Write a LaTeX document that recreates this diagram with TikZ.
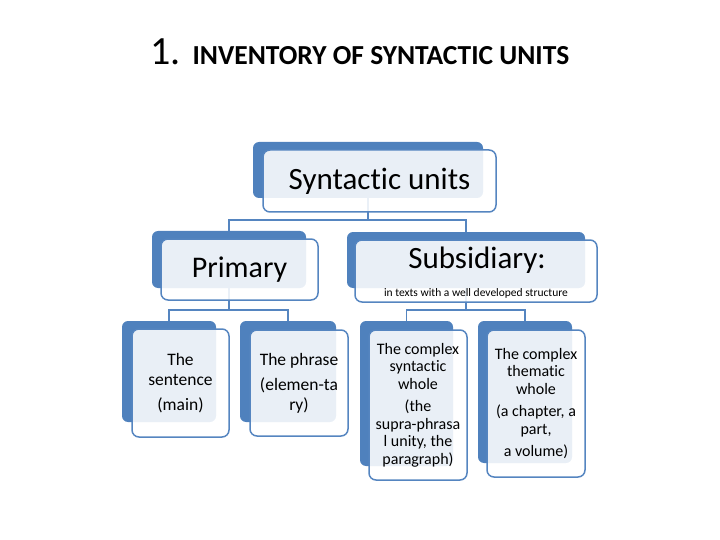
\documentclass[tikz,border=0pt]{standalone}
\usepackage{fontspec}
\setmainfont{Carlito}[Ligatures={NoCommon}]
\usetikzlibrary{positioning}
\definecolor{accblue}{HTML}{4F81BD}
\definecolor{linkblue}{HTML}{5585C0}
\begin{document}
\begin{tikzpicture}[x=1pt,y=-1pt,
  backbox/.style={rectangle,rounded corners=6pt,fill=accblue,draw=none,inner sep=0pt},
  frontbox/.style={rectangle,rounded corners=7pt,fill=white,fill opacity=0.88,text opacity=1,draw=linkblue,line width=1.5pt,inner sep=0pt,align=center,text=black},
  link/.style={draw=linkblue,line width=1.5pt}
]
\useasboundingbox (0,0) rectangle (720,540);
% title
\node[anchor=base west,inner sep=0pt] (title) at (150,65) {\fontsize{40}{48}\selectfont 1. \fontsize{27.5}{33}\selectfont\bfseries INVENTORY OF SYNTACTIC UNITS};
% back rectangles
\node[backbox,minimum width=230,minimum height=56] (topb) at (368,170) {};
\node[backbox,minimum width=154,minimum height=57] (primb) at (229,259.5) {};
\node[backbox,minimum width=238,minimum height=56] (subb) at (466,260) {};
\node[backbox,minimum width=94,minimum height=101] (sentb) at (169,371.5) {};
\node[backbox,minimum width=96,minimum height=101] (phrb) at (288,371.5) {};
\node[backbox,minimum width=93,minimum height=145] (csyb) at (406.5,393.5) {};
\node[backbox,minimum width=94,minimum height=142] (cthb) at (525,392) {};
% connectors
\coordinate (j1) at (368,220);
\coordinate (j2) at (229,310);
\coordinate (j3) at (466,310);
\draw[link] (topb.south) -- (j1) -| (primb.north);
\draw[link] (j1) -| (subb.north);
\draw[link] (primb.south) -- (j2) -| (sentb.north);
\draw[link] (j2) -| (phrb.north);
\draw[link] (subb.south) -- (j3) -| (csyb.north);
\draw[link] (j3) -| (cthb.north);
% front boxes
\node[frontbox,minimum width=233,minimum height=62,font=\fontsize{31}{37}\selectfont] (topf) at (379.5,181) {Syntactic units};
\node[frontbox,minimum width=157,minimum height=61,font=\fontsize{30}{36}\selectfont] (primf) at (239.5,269.5) {Primary};
\node[frontbox,minimum width=242,minimum height=62] (subf) at (476,271) {};
\node[anchor=base,inner sep=0pt,font=\fontsize{31}{37}\selectfont] (subt) at (477,268) {Subsidiary:};
\node[anchor=base,inner sep=0pt,font=\fontsize{11.5}{13}\selectfont] (subs) at (476,296) {in texts with a well developed structure};
\node[frontbox,minimum width=97,minimum height=108,font=\fontsize{17.5}{20}\selectfont] (sentf) at (180.5,383) {The\\sentence\\[5pt](main)};
\node[frontbox,minimum width=98,minimum height=106,font=\fontsize{17.5}{20}\selectfont] (phrf) at (299,383) {The phrase\\[5pt](elemen-ta\\ry)};
\node[frontbox,minimum width=98,minimum height=150,font=\fontsize{16}{17.5}\selectfont] (csyf) at (418,405) {The complex\\syntactic\\whole\\[5pt](the\\supra-phrasa\\l unity, the\\paragraph)};
\node[frontbox,minimum width=98,minimum height=147,font=\fontsize{16}{17.5}\selectfont] (cthf) at (536,403.5) {The complex\\thematic\\whole\\[5pt](a chapter, a\\part,\\[5pt]a volume)};
\end{tikzpicture}
\end{document}
